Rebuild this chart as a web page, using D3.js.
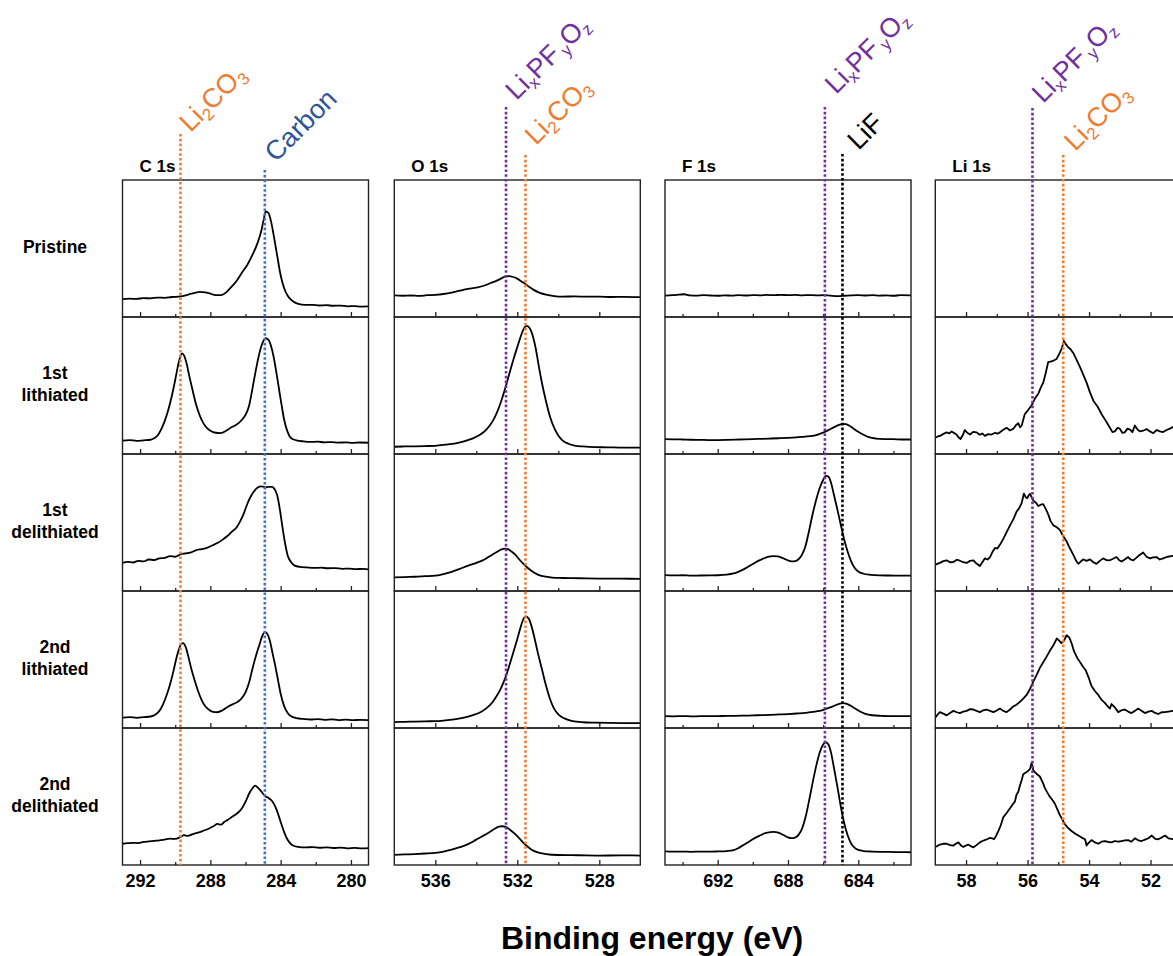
<!DOCTYPE html>
<html><head><meta charset="utf-8">
<script src="https://cdn.jsdelivr.net/npm/d3@7"></script>
<style>
html,body{margin:0;padding:0;background:#fff;overflow:hidden;}
svg{display:block;font-family:"Liberation Sans",Arial,Helvetica,sans-serif;}
</style></head><body>
<svg id="chart" width="1173" height="956"></svg>
<script>
// ---------------- DATA ----------------
const rowLabels = [["Pristine"], ["1st", "lithiated"], ["1st", "delithiated"], ["2nd", "lithiated"], ["2nd", "delithiated"]];
const regionTitles = ["C 1s", "O 1s", "F 1s", "Li 1s"];
const xAxisTitle = "Binding energy (eV)";
const intensityDomain = [0, 100];

const cDomain = [293, 279], cTicks = [292, 288, 284, 280], cMinor = [290, 286, 282];
const oDomain = [538, 526], oTicks = [536, 532, 528], oMinor = [534, 530];
const fDomain = [695, 681], fTicks = [692, 688, 684], fMinor = [694, 690, 686, 682];
const liDomain = [59, 51], liTicks = [58, 56, 54, 52], liMinor = [57, 55, 53];

// reference energies (eV)
const cRefs = [289.7, 284.9];      // Li2CO3, Carbon
const oRefs = [532.55, 531.6];     // LixPFyOz, Li2CO3
const fRefs = [685.9, 684.9];      // LixPFyOz, LiF
const liRefs = [55.84, 54.84];     // LixPFyOz, Li2CO3

// label texts: [text, subscript?]
const labelLi2CO3 = [["Li", 0], ["2", 1], ["CO", 0], ["3", 1]];
const labelCarbon = [["Carbon", 0]];
const labelLiPFO = [["Li", 0], ["x", 1], ["PF", 0], ["y", 1], ["O", 0], ["z", 1]];
const labelLiF = [["LiF", 0]];

// ---- C 1s ----
const cPristine = [[293.0,13.0],[292.6,13.4],[292.2,13.2],[291.8,13.8],[291.4,13.6],[291.0,14.2],[290.6,14.0],[290.2,14.6],[289.7,15.0],[289.3,16.2],[288.9,17.6],[288.6,18.3],[288.3,18.0],[288.0,17.0],[287.7,16.0],[287.4,16.0],[287.1,18.0],[286.8,22.0],[286.5,26.5],[286.2,32.5],[285.9,38.0],[285.6,45.5],[285.3,54.5],[285.1,63.0],[284.95,72.0],[284.85,77.0],[284.7,76.0],[284.55,70.0],[284.4,60.0],[284.2,45.0],[284.0,30.5],[283.8,21.0],[283.6,15.5],[283.3,11.5],[283.0,9.5],[282.6,8.8],[282.2,8.9],[281.8,8.4],[281.4,8.6],[281.0,8.2],[280.6,8.3],[280.2,7.8],[279.8,8.0],[279.4,7.6],[279.0,7.7]];
const cLith1 = [[293.0,9.8],[292.6,10.2],[292.2,9.6],[291.8,10.0],[291.4,10.4],[291.2,11.5],[291.0,13.5],[290.8,18.0],[290.6,24.0],[290.4,32.0],[290.2,42.0],[290.0,54.0],[289.85,64.0],[289.7,71.5],[289.6,73.5],[289.5,72.0],[289.35,66.0],[289.2,57.0],[289.0,46.0],[288.8,35.5],[288.6,28.0],[288.4,22.5],[288.2,19.0],[288.0,17.0],[287.7,15.5],[287.4,15.3],[287.1,17.0],[286.8,19.5],[286.5,21.5],[286.2,25.0],[286.0,28.5],[285.8,35.0],[285.6,48.0],[285.4,62.0],[285.2,74.0],[285.0,82.0],[284.85,84.5],[284.7,83.5],[284.55,79.0],[284.4,71.0],[284.25,60.0],[284.1,48.0],[283.95,36.0],[283.8,25.0],[283.6,16.0],[283.4,11.5],[283.1,10.0],[282.7,9.2],[282.3,8.8],[281.9,9.0],[281.5,8.5],[281.1,8.7],[280.7,8.3],[280.3,8.5],[279.9,8.1],[279.5,8.4],[279.0,8.2]];
const cDelith1 = [[293.0,20.5],[292.7,21.2],[292.4,20.8],[292.1,22.0],[291.8,21.6],[291.5,23.0],[291.2,22.6],[290.9,23.8],[290.6,24.2],[290.3,25.4],[290.0,25.0],[289.7,26.8],[289.4,27.4],[289.1,28.2],[288.8,29.8],[288.5,30.6],[288.2,31.5],[287.9,33.2],[287.6,35.0],[287.3,37.5],[287.0,40.5],[286.8,43.0],[286.5,46.5],[286.3,51.0],[286.1,56.5],[285.9,63.5],[285.7,69.0],[285.5,73.0],[285.3,75.5],[285.1,76.3],[284.95,76.0],[284.85,75.6],[284.7,76.0],[284.5,76.0],[284.35,74.5],[284.2,70.0],[284.05,60.0],[283.9,47.0],[283.75,35.0],[283.6,26.0],[283.4,21.0],[283.2,18.5],[282.9,17.6],[282.5,17.2],[282.1,16.9],[281.7,17.0],[281.3,16.6],[280.9,16.7],[280.5,16.2],[280.1,16.4],[279.7,16.0],[279.3,16.1],[279.0,15.8]];
const cLith2 = [[293.0,7.6],[292.6,8.0],[292.2,7.4],[291.8,7.9],[291.4,8.4],[291.1,10.0],[290.9,12.5],[290.7,17.0],[290.5,23.5],[290.3,31.5],[290.1,41.5],[289.95,50.0],[289.8,57.0],[289.65,61.5],[289.55,62.0],[289.4,59.0],[289.25,52.0],[289.1,44.0],[288.9,35.0],[288.7,27.0],[288.5,20.5],[288.3,16.0],[288.1,13.5],[287.85,11.8],[287.6,11.5],[287.3,13.0],[287.0,15.5],[286.7,17.5],[286.4,19.5],[286.2,22.0],[286.0,26.0],[285.8,33.0],[285.6,43.5],[285.4,53.0],[285.2,61.0],[285.05,67.0],[284.9,70.0],[284.75,68.5],[284.6,63.0],[284.45,54.0],[284.3,45.0],[284.15,35.0],[284.0,25.0],[283.8,16.0],[283.6,11.0],[283.4,8.5],[283.1,7.2],[282.7,6.6],[282.3,6.2],[281.9,6.5],[281.5,6.0],[281.1,6.3],[280.7,5.8],[280.3,6.1],[279.9,5.7],[279.5,6.0],[279.0,5.8]];
const cDelith2 = [[293.0,15.5],[292.7,15.9],[292.4,16.2],[292.1,16.0],[291.8,16.8],[291.5,17.2],[291.2,17.6],[290.9,18.0],[290.6,18.6],[290.3,19.2],[290.0,19.0],[289.7,20.5],[289.5,21.8],[289.3,21.2],[289.0,22.5],[288.7,23.6],[288.4,25.0],[288.1,26.5],[287.8,28.5],[287.6,30.0],[287.4,29.4],[287.2,31.5],[287.0,33.0],[286.8,34.8],[286.6,36.5],[286.4,38.5],[286.2,41.5],[286.0,46.0],[285.8,52.0],[285.6,56.0],[285.45,58.0],[285.3,56.5],[285.15,54.5],[285.0,52.0],[284.85,50.0],[284.7,49.0],[284.55,47.5],[284.4,45.0],[284.25,41.0],[284.1,35.5],[283.95,29.5],[283.8,24.0],[283.65,19.5],[283.5,16.5],[283.3,14.2],[283.0,13.2],[282.6,12.8],[282.2,13.1],[281.8,12.6],[281.4,12.9],[281.0,12.4],[280.6,12.7],[280.2,12.2],[279.8,12.5],[279.4,12.1],[279.0,12.3]];

// ---- O 1s ----
const oPristine = [[538.0,15.8],[537.6,15.5],[537.2,15.7],[536.8,15.4],[536.4,15.9],[536.0,16.2],[535.6,16.8],[535.2,17.8],[534.8,19.2],[534.4,20.5],[534.0,21.5],[533.6,23.0],[533.3,24.8],[533.0,26.5],[532.8,28.0],[532.6,29.5],[532.4,29.8],[532.2,29.2],[532.0,28.0],[531.8,26.0],[531.6,24.0],[531.4,21.8],[531.2,19.8],[530.9,17.6],[530.6,16.3],[530.2,15.3],[529.8,14.9],[529.2,15.0],[528.6,14.8],[528.0,14.9],[527.4,14.6],[526.8,14.7],[526.0,14.5]];
const oLith1 = [[538.0,5.3],[537.5,5.5],[537.0,5.6],[536.5,5.8],[536.0,6.0],[535.5,6.8],[535.0,7.8],[534.6,9.2],[534.2,11.2],[533.8,14.2],[533.5,18.0],[533.2,24.0],[533.0,30.0],[532.8,38.0],[532.6,47.5],[532.4,58.0],[532.2,68.5],[532.0,78.0],[531.85,85.0],[531.7,91.0],[531.55,93.5],[531.4,92.0],[531.25,86.5],[531.1,77.0],[530.95,64.0],[530.8,52.0],[530.6,38.5],[530.4,27.0],[530.2,19.0],[530.0,13.5],[529.8,10.0],[529.5,7.5],[529.2,6.2],[528.8,5.5],[528.2,5.0],[527.6,4.9],[527.0,4.7],[526.0,4.6]];
const oDelith1 = [[538.0,9.9],[537.5,10.2],[537.0,10.4],[536.5,10.8],[536.0,11.2],[535.6,12.4],[535.2,14.0],[534.8,16.2],[534.4,18.5],[534.0,20.5],[533.6,23.0],[533.3,25.8],[533.0,28.5],[532.8,30.2],[532.6,31.0],[532.45,30.6],[532.3,29.0],[532.1,26.5],[531.9,23.0],[531.7,19.8],[531.5,17.0],[531.3,14.6],[531.0,12.0],[530.7,10.6],[530.3,9.8],[529.8,9.5],[529.0,9.3],[528.0,9.1],[527.0,9.0],[526.0,8.9]];
const oLith2 = [[538.0,4.3],[537.5,4.5],[537.0,4.7],[536.5,4.9],[536.0,5.0],[535.5,5.6],[535.0,6.4],[534.6,7.5],[534.2,9.2],[533.8,11.5],[533.5,14.5],[533.2,19.0],[533.0,23.5],[532.8,29.0],[532.6,36.0],[532.4,45.0],[532.2,55.0],[532.0,65.0],[531.85,73.0],[531.72,79.0],[531.6,81.5],[531.45,80.0],[531.3,74.0],[531.15,65.0],[531.0,55.0],[530.8,43.0],[530.6,31.0],[530.4,21.0],[530.2,14.0],[530.0,10.0],[529.7,7.0],[529.3,5.0],[528.8,4.2],[528.2,3.9],[527.5,3.7],[526.8,3.6],[526.0,3.6]];
const oDelith2 = [[538.0,7.4],[537.5,7.7],[537.0,8.0],[536.5,8.4],[536.0,8.9],[535.6,9.8],[535.2,11.2],[534.8,13.0],[534.4,15.2],[534.0,18.5],[533.7,21.0],[533.4,23.6],[533.1,26.5],[532.9,28.0],[532.75,28.3],[532.6,28.0],[532.45,26.8],[532.3,25.0],[532.1,22.5],[531.9,19.5],[531.7,16.2],[531.5,13.5],[531.3,11.2],[531.0,9.2],[530.6,8.0],[530.0,7.3],[529.0,7.1],[528.0,6.9],[527.0,7.0],[526.0,6.9]];

// ---- F 1s ----
const fPristine = [[695.0,15.6],[694.6,15.9],[694.2,16.3],[693.9,16.6],[693.6,15.8],[693.2,15.6],[692.8,15.9],[692.4,15.7],[692.0,15.5],[691.6,15.8],[691.2,15.6],[690.8,15.9],[690.4,15.7],[690.0,16.0],[689.6,15.8],[689.2,16.1],[688.8,15.9],[688.4,16.2],[688.0,15.9],[687.6,16.1],[687.2,15.8],[686.8,16.0],[686.4,15.8],[686.0,15.9],[685.6,15.6],[685.2,15.3],[684.8,15.5],[684.4,15.8],[684.0,15.9],[683.6,15.7],[683.2,15.9],[682.8,15.6],[682.4,15.8],[682.0,15.5],[681.6,15.9],[681.0,15.8]];
const fLith1 = [[695.0,10.9],[694.5,10.7],[694.0,10.6],[693.5,10.4],[693.0,10.3],[692.5,10.2],[692.0,10.2],[691.5,10.3],[691.0,10.5],[690.5,10.7],[690.0,10.9],[689.5,11.1],[689.0,11.3],[688.5,11.5],[688.0,11.8],[687.5,12.2],[687.0,12.7],[686.6,13.3],[686.3,14.2],[686.0,15.6],[685.7,17.4],[685.4,19.4],[685.1,21.2],[684.9,22.0],[684.7,21.8],[684.5,20.6],[684.3,18.8],[684.0,16.2],[683.7,14.0],[683.4,12.3],[683.0,11.3],[682.5,10.9],[682.0,10.8],[681.5,10.6],[681.0,10.6]];
const fDelith1 = [[695.0,11.6],[694.5,11.4],[694.0,11.5],[693.5,11.2],[693.0,11.3],[692.5,11.4],[692.0,11.5],[691.5,11.9],[691.1,12.8],[690.8,14.2],[690.5,16.0],[690.2,18.2],[689.9,20.5],[689.6,22.5],[689.3,24.2],[689.0,25.2],[688.8,25.5],[688.6,25.3],[688.4,24.6],[688.2,23.5],[688.0,22.3],[687.8,21.6],[687.6,21.8],[687.4,23.2],[687.2,26.5],[687.0,33.0],[686.8,44.0],[686.6,56.0],[686.4,66.5],[686.2,75.0],[686.0,81.0],[685.85,84.0],[685.7,83.5],[685.55,79.0],[685.4,71.0],[685.2,60.0],[685.0,48.5],[684.8,37.5],[684.6,28.5],[684.4,21.5],[684.2,16.8],[684.0,14.2],[683.7,12.6],[683.3,11.8],[682.8,11.4],[682.2,11.3],[681.6,11.2],[681.0,11.2]];
const fLith2 = [[695.0,8.6],[694.5,8.5],[694.0,8.7],[693.5,8.5],[693.0,8.6],[692.5,8.6],[692.0,8.7],[691.5,8.8],[691.0,8.9],[690.5,9.0],[690.0,9.2],[689.5,9.4],[689.0,9.6],[688.5,9.9],[688.0,10.2],[687.5,10.6],[687.0,11.1],[686.6,11.8],[686.2,12.5],[685.9,13.6],[685.6,15.0],[685.3,16.6],[685.05,17.8],[684.85,18.2],[684.65,17.6],[684.4,16.0],[684.15,14.0],[683.9,12.0],[683.6,10.3],[683.2,9.3],[682.7,8.9],[682.0,8.7],[681.5,8.6],[681.0,8.6]];
const fDelith2 = [[695.0,9.9],[694.5,9.7],[694.0,9.8],[693.5,9.6],[693.0,9.8],[692.5,9.7],[692.0,9.9],[691.5,10.2],[691.1,10.8],[690.8,12.5],[690.5,14.8],[690.2,17.2],[689.9,19.6],[689.6,21.5],[689.3,23.2],[689.0,24.0],[688.8,24.2],[688.6,23.8],[688.4,22.8],[688.2,21.5],[688.0,20.2],[687.8,19.6],[687.6,20.0],[687.4,22.0],[687.2,26.5],[687.0,35.0],[686.8,47.0],[686.6,60.0],[686.4,72.0],[686.2,82.0],[686.0,88.0],[685.85,89.5],[685.7,88.0],[685.55,82.0],[685.4,72.0],[685.2,58.0],[685.0,43.0],[684.8,30.5],[684.6,21.5],[684.4,15.5],[684.2,12.5],[684.0,11.0],[683.7,10.2],[683.2,9.8],[682.5,9.6],[681.8,9.4],[681.0,9.3]];

// ---- Li 1s ----
const liPristine = [];
const liLith1 = [[59.0,11.9],[58.92,12.8],[58.85,13.2],[58.75,14.5],[58.63,15.8],[58.55,15.0],[58.47,16.5],[58.39,15.4],[58.31,14.2],[58.24,12.0],[58.18,10.9],[58.1,14.0],[58.04,17.5],[57.96,15.5],[57.87,14.2],[57.77,16.2],[57.66,15.8],[57.55,14.0],[57.47,15.0],[57.39,13.2],[57.28,14.5],[57.17,14.2],[57.05,15.5],[56.98,14.8],[56.9,15.8],[56.8,17.5],[56.68,19.1],[56.57,17.2],[56.46,18.5],[56.38,21.0],[56.3,22.4],[56.24,19.5],[56.19,20.8],[56.09,29.1],[56.0,31.5],[55.92,34.0],[55.84,36.5],[55.76,40.6],[55.65,44.0],[55.57,48.5],[55.49,52.1],[55.41,59.0],[55.33,67.0],[55.25,67.5],[55.15,68.2],[55.06,69.3],[54.97,73.0],[54.89,76.9],[54.82,82.5],[54.75,80.0],[54.68,77.9],[54.6,76.5],[54.51,73.6],[54.4,68.5],[54.3,63.7],[54.19,58.0],[54.08,52.1],[53.97,45.0],[53.86,38.9],[53.72,34.5],[53.59,29.0],[53.45,24.0],[53.32,19.1],[53.24,16.0],[53.16,16.5],[53.08,19.0],[53.0,18.5],[52.92,15.5],[52.84,15.8],[52.75,18.5],[52.67,17.8],[52.59,16.0],[52.51,20.8],[52.43,18.0],[52.35,16.5],[52.24,17.0],[52.13,18.2],[52.02,16.5],[51.91,15.2],[51.8,17.5],[51.7,16.5],[51.59,16.0],[51.48,17.5],[51.37,18.5],[51.26,19.8],[51.15,17.5],[51.0,18.0]];
const liDelith1 = [[59.0,19.1],[58.92,20.0],[58.85,20.5],[58.74,21.8],[58.63,22.4],[58.52,21.0],[58.41,21.1],[58.3,22.8],[58.2,22.1],[58.09,21.0],[57.98,20.5],[57.87,22.0],[57.76,22.4],[57.66,20.0],[57.55,18.2],[57.47,21.0],[57.39,23.8],[57.3,23.0],[57.22,24.8],[57.14,28.5],[57.06,31.4],[56.98,31.0],[56.9,33.7],[56.79,38.0],[56.68,43.0],[56.57,47.9],[56.46,52.5],[56.36,57.8],[56.27,60.5],[56.19,64.4],[56.12,71.0],[56.06,68.5],[56.01,67.7],[55.96,70.0],[55.92,71.0],[55.86,68.0],[55.81,66.0],[55.73,64.5],[55.65,62.0],[55.57,63.0],[55.49,63.4],[55.41,60.0],[55.33,56.1],[55.25,51.0],[55.16,47.9],[55.05,46.5],[54.95,44.6],[54.84,40.0],[54.73,36.3],[54.62,31.0],[54.51,26.4],[54.43,22.5],[54.35,19.8],[54.27,21.5],[54.19,23.1],[54.08,22.0],[53.97,23.1],[53.86,21.0],[53.76,19.8],[53.65,22.0],[53.54,23.8],[53.43,22.5],[53.32,22.4],[53.22,23.5],[53.11,24.8],[53.02,22.5],[52.94,21.5],[52.84,23.0],[52.73,24.8],[52.65,23.0],[52.56,22.4],[52.4,25.5],[52.24,28.1],[52.13,25.0],[52.02,23.8],[51.92,24.5],[51.81,24.8],[51.7,23.0],[51.59,23.8],[51.45,25.0],[51.26,25.7],[51.1,24.5],[51.0,25.0]];
const liLith2 = [[59.0,7.6],[58.92,10.0],[58.85,11.6],[58.74,10.5],[58.63,9.2],[58.52,11.0],[58.41,12.5],[58.3,11.5],[58.2,10.9],[58.09,12.0],[57.98,12.5],[57.87,13.8],[57.76,13.5],[57.66,12.5],[57.55,11.6],[57.45,12.8],[57.33,13.5],[57.22,12.5],[57.11,11.6],[57.0,12.8],[56.9,14.2],[56.79,12.5],[56.68,11.6],[56.57,13.5],[56.46,15.8],[56.36,17.0],[56.25,19.1],[56.14,21.5],[56.03,24.1],[55.92,28.5],[55.81,34.0],[55.7,39.0],[55.6,43.9],[55.49,48.0],[55.38,52.1],[55.27,56.5],[55.16,60.4],[55.05,65.3],[54.98,64.0],[54.9,62.0],[54.82,63.5],[54.73,67.7],[54.64,66.0],[54.57,62.0],[54.49,56.1],[54.38,51.0],[54.27,47.2],[54.19,44.5],[54.11,42.2],[54.0,36.0],[53.92,30.7],[53.81,27.0],[53.7,24.1],[53.59,20.5],[53.48,18.2],[53.38,15.5],[53.32,14.2],[53.27,17.5],[53.16,15.0],[53.05,11.6],[52.94,13.0],[52.84,13.5],[52.73,12.0],[52.62,10.9],[52.51,12.5],[52.4,14.2],[52.29,12.5],[52.18,10.9],[52.07,12.0],[51.96,12.5],[51.85,11.0],[51.75,10.2],[51.64,11.5],[51.53,11.6],[51.42,12.0],[51.26,12.5],[51.1,11.5],[51.0,12.0]];
const liDelith2 = [[59.0,13.2],[58.92,14.0],[58.85,14.9],[58.74,15.5],[58.63,15.5],[58.52,14.5],[58.41,14.2],[58.33,15.5],[58.25,16.5],[58.15,14.0],[58.09,13.2],[58.0,14.2],[57.93,14.9],[57.85,13.8],[57.76,12.9],[57.66,14.5],[57.55,16.5],[57.47,17.5],[57.39,18.2],[57.3,19.0],[57.22,19.8],[57.15,19.5],[57.09,18.8],[57.03,21.0],[56.95,24.8],[56.87,29.0],[56.79,34.8],[56.68,38.0],[56.57,41.4],[56.49,44.0],[56.41,46.4],[56.36,51.3],[56.3,53.5],[56.25,57.9],[56.19,62.0],[56.14,66.2],[56.03,67.8],[55.92,70.0],[55.87,74.5],[55.81,69.0],[55.76,67.8],[55.68,66.0],[55.6,64.6],[55.5,60.0],[55.44,56.3],[55.36,53.0],[55.27,49.7],[55.16,46.5],[55.11,44.7],[55.02,40.0],[54.95,36.4],[54.86,33.0],[54.79,29.8],[54.68,27.0],[54.57,24.8],[54.46,23.0],[54.35,21.5],[54.24,20.0],[54.13,18.8],[54.08,14.2],[54.02,16.0],[53.92,18.2],[53.81,16.5],[53.7,15.5],[53.59,17.0],[53.48,17.5],[53.38,16.8],[53.27,16.5],[53.16,17.5],[53.05,17.0],[52.94,17.5],[52.84,18.0],[52.73,18.2],[52.62,17.0],[52.51,19.5],[52.4,18.0],[52.29,17.5],[52.18,18.5],[52.07,19.5],[51.96,21.5],[51.85,19.0],[51.75,18.8],[51.64,20.0],[51.53,21.5],[51.42,19.5],[51.26,18.8],[51.1,20.5],[51.0,19.5]];

// ---------------- LAYOUT / STYLE ----------------
const ORANGE = "#ED7D31", PURPLE = "#7030A0", BLUE = "#4472C4", DARKBLUE = "#2F5597", BLACK = "#000";
const panelLefts = [122.5, 394.3, 665, 935.3];
const panelW = 246, plotTop = 180, rowH = 137;

const panels = [
  { title: regionTitles[0], domain: cDomain, ticks: cTicks, minor: cMinor, smooth: true,
    series: [cPristine, cLith1, cDelith1, cLith2, cDelith2],
    refs: [
      { e: cRefs[0], label: labelLi2CO3, line: ORANGE, text: ORANGE, top: 134, dx: 10, dy: -1 },
      { e: cRefs[1], label: labelCarbon, line: BLUE, text: DARKBLUE, top: 170, dx: 11, dy: -7 } ] },
  { title: regionTitles[1], domain: oDomain, ticks: oTicks, minor: oMinor, smooth: true,
    series: [oPristine, oLith1, oDelith1, oLith2, oDelith2],
    refs: [
      { e: oRefs[0], label: labelLiPFO, line: PURPLE, text: PURPLE, top: 107, dx: 10.5, dy: -6 },
      { e: oRefs[1], label: labelLi2CO3, line: ORANGE, text: ORANGE, top: 155, dx: 10.5, dy: -9 } ] },
  { title: regionTitles[2], domain: fDomain, ticks: fTicks, minor: fMinor, smooth: true,
    series: [fPristine, fLith1, fDelith1, fLith2, fDelith2],
    refs: [
      { e: fRefs[0], label: labelLiPFO, line: PURPLE, text: PURPLE, top: 107, dx: 11, dy: -12 },
      { e: fRefs[1], label: labelLiF, line: BLACK, text: BLACK, top: 154, dx: 16, dy: -3 } ] },
  { title: regionTitles[3], domain: liDomain, ticks: liTicks, minor: liMinor, smooth: false,
    series: [liPristine, liLith1, liDelith1, liLith2, liDelith2],
    refs: [
      { e: liRefs[0], label: labelLiPFO, line: PURPLE, text: PURPLE, top: 108, dx: 10.5, dy: -4 },
      { e: liRefs[1], label: labelLi2CO3, line: ORANGE, text: ORANGE, top: 155, dx: 12, dy: -3 } ] }
];

// ---------------- DRAW ----------------
const svg = d3.select("#chart");
const nRows = rowLabels.length;
const plotBottom = plotTop + nRows * rowH;

// row labels
rowLabels.forEach((lines, r) => {
  const cy = plotTop + r * rowH + rowH / 2 - 2;
  const t = svg.append("text")
    .attr("text-anchor", "middle")
    .attr("font-size", 17.5).attr("font-weight", "bold").attr("fill", "#000");
  lines.forEach((ln, i) => {
    t.append("tspan").attr("x", 55)
      .attr("y", cy + 6 - (lines.length - 1) * 11 + i * 22)
      .text(ln);
  });
});

panels.forEach((p, pi) => {
  const left = panelLefts[pi];
  const x = d3.scaleLinear().domain(p.domain).range([left, left + panelW]);
  const g = svg.append("g");

  // title
  g.append("text").attr("x", left + 17).attr("y", 172)
    .attr("font-size", 17).attr("font-weight", "bold").text(p.title);

  p.series.forEach((data, r) => {
    const top = plotTop + r * rowH, bottom = top + rowH;
    const y = d3.scaleLinear().domain(intensityDomain).range([bottom, top]);

    // ticks (pointing inward)
    const isLast = r === nRows - 1;
    const major = g.append("g").attr("transform", `translate(0,${bottom})`)
      .call(d3.axisBottom(x).tickValues(p.ticks).tickSizeInner(-5).tickSizeOuter(0)
        .tickPadding(9).tickFormat(isLast ? d3.format("d") : () => ""));
    const minor = g.append("g").attr("transform", `translate(0,${bottom})`)
      .call(d3.axisBottom(x).tickValues(p.minor).tickSizeInner(-3).tickSizeOuter(0).tickFormat(() => ""));
    [major, minor].forEach(a => {
      a.select(".domain").remove();
      a.selectAll(".tick line").attr("stroke", "#222").attr("stroke-width", 1.3);
      a.selectAll(".tick text").attr("font-size", 18).attr("font-weight", "bold")
        .attr("fill", "#000").attr("font-family", '"Liberation Sans",Arial,sans-serif');
    });

    // spectrum
    if (data.length) {
      const line = d3.line().x(d => x(d[0])).y(d => y(d[1]))
        .curve(p.smooth ? d3.curveMonotoneX : d3.curveLinear);
      g.append("path").datum(data).attr("d", line)
        .attr("fill", "none").attr("stroke", "#000").attr("stroke-width", 1.8)
        .attr("stroke-linejoin", "round");
    }

    // cell border
    g.append("rect").attr("x", left).attr("y", top).attr("width", panelW).attr("height", rowH)
      .attr("fill", "none").attr("stroke", "#222").attr("stroke-width", 1.4);
  });

  // reference lines + labels
  p.refs.forEach(ref => {
    const xe = x(ref.e);
    svg.append("line").attr("x1", xe).attr("x2", xe).attr("y1", ref.top).attr("y2", plotBottom)
      .attr("stroke", ref.line).attr("stroke-width", 2.6).attr("stroke-dasharray", "2.6 2.2");
    const t = svg.append("text")
      .attr("transform", `translate(${xe + ref.dx},${ref.top + ref.dy}) rotate(-45)`)
      .attr("font-size", 27).attr("fill", ref.text);
    let shifted = false;
    ref.label.forEach(([s, sub]) => {
      const ts = t.append("tspan").text(s);
      if (sub) {
        ts.attr("font-size", 17).attr("dy", shifted ? 0 : 5);
        if (s === "y") ts.attr("dx", 3);
        shifted = true;
      } else {
        ts.attr("dy", shifted ? -5 : 0);
        shifted = false;
      }
    });
  });
});

// x-axis title
svg.append("text").attr("x", 652).attr("y", 949).attr("text-anchor", "middle")
  .attr("font-size", 32).attr("font-weight", "bold").text(xAxisTitle);
</script>
</body></html>
